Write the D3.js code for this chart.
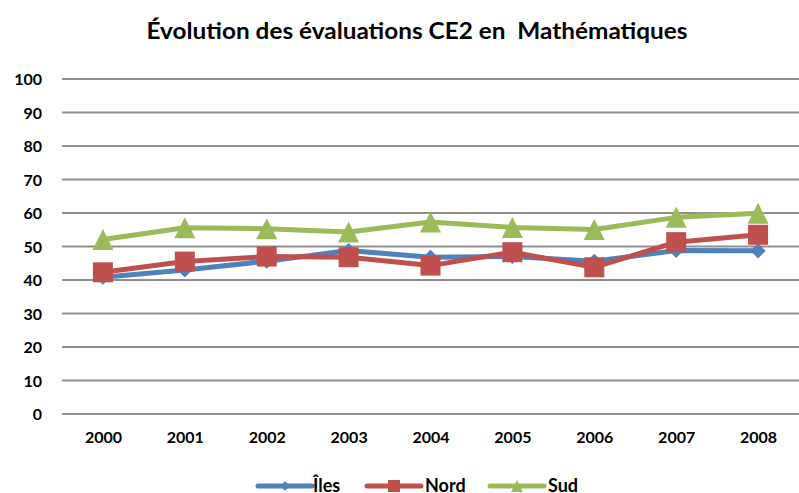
<!DOCTYPE html>
<html>
<head>
<meta charset="utf-8">
<script src="https://cdn.jsdelivr.net/npm/d3@7"></script>
<style>
  html, body { margin: 0; padding: 0; background: #fff; }
  svg { display: block; }
  text { font-family: Lato, "Open Sans", sans-serif; font-weight: 700; fill: #000; }
</style>
</head>
<body>
<svg id="chart" width="799" height="493"></svg>
<script>
const categories = ["2000","2001","2002","2003","2004","2005","2006","2007","2008"];
const seriesNames = ["Îles","Nord","Sud"];
const ilesValues = [40.8, 43.0, 45.6, 48.8, 46.8, 47.0, 45.6, 48.8, 48.7];
const nordValues = [42.3, 45.5, 47.0, 46.8, 44.3, 48.3, 43.8, 51.3, 53.5];
const sudValues  = [52.1, 55.6, 55.3, 54.3, 57.3, 55.7, 55.1, 58.7, 59.9];
const yTicks = [0,10,20,30,40,50,60,70,80,90,100];
const titleText = "Évolution des évaluations CE2 en  Mathématiques";

const series = [
  {name: seriesNames[0], values: ilesValues, color: "#4F81BD", marker: "diamond"},
  {name: seriesNames[1], values: nordValues, color: "#C0504D", marker: "square"},
  {name: seriesNames[2], values: sudValues,  color: "#9BBB59", marker: "triangle"}
];

const svg = d3.select("#chart");
const plot = {left: 62, right: 799, top: 79, bottom: 414};

const x = d3.scalePoint().domain(categories).range([plot.left, plot.right]).padding(0.5);
const y = d3.scaleLinear().domain([0, 100]).range([plot.bottom, plot.top]);

// title
svg.append("text")
  .attr("x", 417).attr("y", 39)
  .attr("text-anchor", "middle")
  .attr("xml:space", "preserve")
  .style("white-space", "pre")
  .style("font-size", "22px")
  .attr("textLength", 541)
  .attr("lengthAdjust", "spacingAndGlyphs")
  .text(titleText);

// gridlines
svg.append("g").selectAll("line").data(yTicks).join("line")
  .attr("x1", plot.left).attr("x2", plot.right)
  .attr("y1", d => y(d)).attr("y2", d => y(d))
  .attr("stroke", "#8f8f8f").attr("stroke-width", 2);

// y axis labels
const yAxis = d3.axisLeft(y).tickValues(yTicks).tickSize(0).tickPadding(0);
const yg = svg.append("g").attr("transform", `translate(${42},0)`).call(yAxis);
yg.select(".domain").remove();
yg.selectAll("text").style("font-size", "16px").attr("font-family", null).attr("dy", "0.36em");

// x axis labels
const xAxis = d3.axisBottom(x).tickSize(0).tickPadding(0);
const xg = svg.append("g").attr("transform", `translate(0,${432})`).call(xAxis);
xg.select(".domain").remove();
xg.selectAll("text").style("font-size", "16px").attr("font-family", null).attr("dy", "0.71em");

function markerPath(type, s) {
  if (type === "diamond") return d3.symbol(d3.symbolDiamond2, s * s * 0.5)();
  if (type === "square") return d3.symbol(d3.symbolSquare, s * s)();
  const h = s, w = s;
  return `M0,${-h/2}L${w/2},${h/2}L${-w/2},${h/2}Z`;
}
const markerSize = {diamond: 17, square: 20, triangle: 21};

const line = d3.line().x((d, i) => x(categories[i])).y(d => y(d));

series.forEach(s => {
  const g = svg.append("g");
  g.append("path").datum(s.values)
    .attr("d", line)
    .attr("fill", "none")
    .attr("stroke", s.color)
    .attr("stroke-width", 5)
    .attr("stroke-linejoin", "round");
  g.selectAll("path.m").data(s.values).join("path")
    .attr("class", "m")
    .attr("transform", (d, i) => `translate(${x(categories[i])},${y(d)})`)
    .attr("d", markerPath(s.marker, markerSize[s.marker]))
    .attr("fill", s.color);
});

// legend
const legendItems = [
  {x0: 258, tx: 313},
  {x0: 367, tx: 425},
  {x0: 490, tx: 548}
];
const ly = 486;
series.forEach((s, i) => {
  const L = legendItems[i];
  const g = svg.append("g");
  g.append("line").attr("x1", L.x0).attr("x2", L.x0 + 54)
    .attr("y1", ly).attr("y2", ly)
    .attr("stroke", s.color).attr("stroke-width", 5).attr("stroke-linecap", "round");
  g.append("path").attr("transform", `translate(${L.x0 + 27},${ly})`)
    .attr("d", markerPath(s.marker, s.marker === "diamond" ? 11 : 12))
    .attr("fill", s.color);
  g.append("text").attr("x", L.tx).attr("y", ly).attr("dy", "0.36em")
    .style("font-size", "18px").text(s.name);
});
</script>
</body>
</html>
